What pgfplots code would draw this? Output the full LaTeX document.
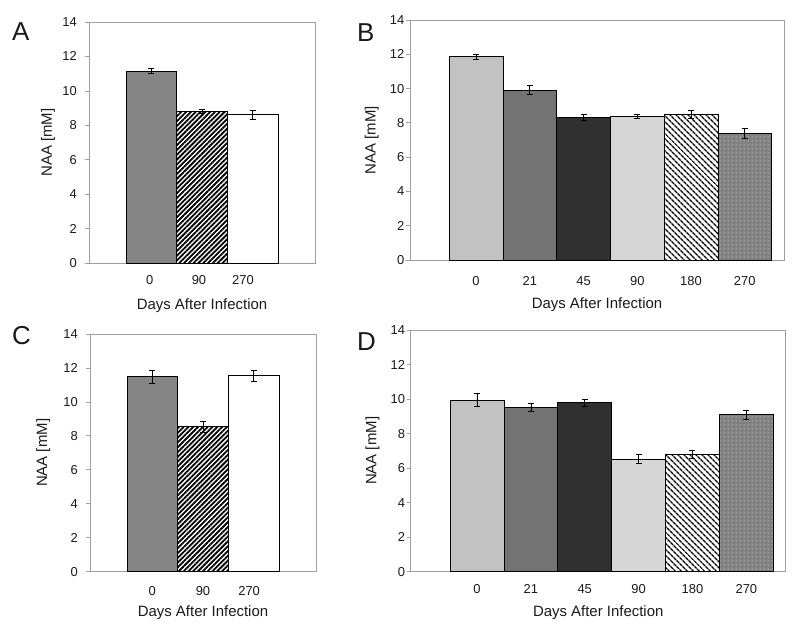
\documentclass[border=0pt]{standalone}
\usepackage{pgfplots}
\pgfplotsset{compat=1.18}
\usepackage{fontspec}
\setmainfont{Liberation Sans}
\usetikzlibrary{patterns,patterns.meta}
\definecolor{frame}{gray}{0.62}
\definecolor{gA1}{gray}{0.52}
\definecolor{gB1}{gray}{0.76}
\definecolor{gB2}{gray}{0.45}
\definecolor{gB3}{gray}{0.19}
\definecolor{gB4}{gray}{0.84}
\definecolor{gB6}{gray}{0.50}
\pgfplotsset{
  panel/.style={
    scale only axis, anchor=south west,
    ymin=0, ymax=14, ytick={0,2,...,14},
    axis line style={draw=frame, line width=0.8bp},
    ytick pos=left, tick align=outside, major tick length=4bp,
    ytick style={draw=frame, line width=0.8bp},
    xtick style={draw=none},
    /pgf/number format/assume math mode=true,
    ticklabel style={font=\fontsize{13}{13}\selectfont, text=black!90},
    yticklabel style={anchor=east, inner sep=0pt},
    xticklabel style={anchor=center},
    label style={font=\fontsize{15}{15}\selectfont, text=black!90},
    xlabel={Days After Infection}, ylabel={NAA [mM]},
    ylabel style={anchor=center},
    xlabel style={anchor=center},
    clip=false,
  },
  bar/.style={ybar, bar width=1, draw=black, line width=0.8bp,
    error bars/y dir=both, error bars/y explicit,
    error bars/error bar style={black, line width=0.7bp},
    error bars/error mark options={black, mark size=3bp, line width=0.7bp, rotate=90}},
  stripeA/.style={bar, fill=white, postaction={pattern={Lines[angle=45,distance=3.4bp,line width=1.8bp]}, pattern color=black}},
  stripeB/.style={bar, fill=white, postaction={pattern={Lines[angle=-45,distance=3.9bp,line width=1.5bp]}, pattern color=black}},
  dotsB/.style={bar, fill=gB6, postaction={pattern={Dots[distance=4bp, radius=0.5bp]}, pattern color=white}},
}
\begin{document}
\begin{tikzpicture}
\useasboundingbox (0,0) rectangle (800bp,-625bp);
% Panel A
\begin{axis}[panel, at={(89bp,-263.3bp)}, width=226bp, height=241.3bp,
  xmin=-1.23, xmax=3.23, xtick={-0.03,0.94,1.81}, xticklabels={0,90,270},
  xticklabel style={yshift=-13bp},
  yticklabel style={xshift=-8bp},
  ylabel style={at={(axis description cs:-0.181,0.5)}},
  xlabel style={at={(axis description cs:0.5,-0.175)}}]
\addplot[bar, fill=gA1] coordinates {(0,11.15) +- (0,0.15)};
\addplot[stripeA] coordinates {(1,8.8) +- (0,0.12)};
\addplot[bar, fill=white] coordinates {(2,8.62) +- (0,0.24)};
\end{axis}
% Panel B
\begin{axis}[panel, at={(410bp,-260bp)}, width=374bp, height=240bp,
  xmin=-1.23, xmax=5.73, xtick={0,1,2,3,4,5}, xticklabels={0,21,45,90,180,270},
  xticklabel style={yshift=-17bp},
  yticklabel style={xshift=-1.5bp},
  ylabel style={at={(axis description cs:-0.102,0.5)}},
  xlabel style={at={(axis description cs:0.5,-0.185)}}]
\addplot[bar, fill=gB1] coordinates {(0,11.85) +- (0,0.17)};
\addplot[bar, fill=gB2] coordinates {(1,9.9) +- (0,0.26)};
\addplot[bar, fill=gB3] coordinates {(2,8.3) +- (0,0.17)};
\addplot[bar, fill=gB4] coordinates {(3,8.37) +- (0,0.1)};
\addplot[stripeB] coordinates {(4,8.5) +- (0,0.24)};
\addplot[dotsB] coordinates {(5,7.4) +- (0,0.29)};
\end{axis}
% Panel C
\begin{axis}[panel, at={(90bp,-571.7bp)}, width=226bp, height=237.7bp,
  xmin=-1.23, xmax=3.23, xtick={0,1,1.91}, xticklabels={0,90,270},
  xticklabel style={yshift=-15bp},
  yticklabel style={xshift=-8bp},
  ylabel style={at={(axis description cs:-0.207,0.5)}},
  xlabel style={at={(axis description cs:0.5,-0.172)}}]
\addplot[bar, fill=gA1] coordinates {(0,11.5) +- (0,0.38)};
\addplot[stripeA] coordinates {(1,8.55) +- (0,0.32)};
\addplot[bar, fill=white] coordinates {(2,11.55) +- (0,0.31)};
\end{axis}
% Panel D
\begin{axis}[panel, at={(410.7bp,-571.7bp)}, width=375bp, height=241.7bp,
  xmin=-1.23, xmax=5.73, xtick={0,1,2,3,4,5}, xticklabels={0,21,45,90,180,270},
  xticklabel style={yshift=-13bp},
  yticklabel style={xshift=-1.5bp},
  ylabel style={at={(axis description cs:-0.102,0.5)}},
  xlabel style={at={(axis description cs:0.5,-0.170)}}]
\addplot[bar, fill=gB1] coordinates {(0,9.95) +- (0,0.38)};
\addplot[bar, fill=gB2] coordinates {(1,9.5) +- (0,0.24)};
\addplot[bar, fill=gB3] coordinates {(2,9.78) +- (0,0.22)};
\addplot[bar, fill=gB4] coordinates {(3,6.53) +- (0,0.28)};
\addplot[stripeB] coordinates {(4,6.8) +- (0,0.21)};
\addplot[dotsB] coordinates {(5,9.1) +- (0,0.27)};
\end{axis}
\begin{scope}[every node/.style={font=\fontsize{26}{26}\selectfont, text=black!90, inner sep=0pt, anchor=base west}]
\node at (12bp,-40bp) {A};
\node at (357bp,-41bp) {B};
\node at (12bp,-344bp) {C};
\node at (357bp,-350bp) {D};
\end{scope}
\end{tikzpicture}
\end{document}
